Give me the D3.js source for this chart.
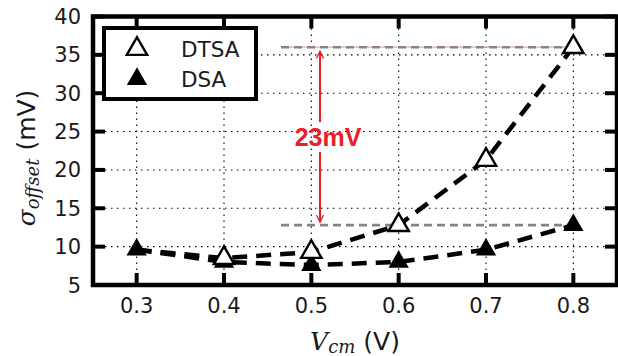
<!DOCTYPE html>
<html lang="en">
<head>
<meta charset="UTF-8">
<title>Offset sigma vs Vcm</title>
<script src="https://cdnjs.cloudflare.com/ajax/libs/d3/7.8.5/d3.min.js"></script>
<style>
    body { margin: 0; background: #fff; }
    svg { display: block; font-family: "DejaVu Sans", sans-serif; }
</style>
</head>
<body>
<svg width="618" height="356"></svg>
<script>
    // values
    const vcm = [0.3, 0.4, 0.5, 0.6, 0.7, 0.8];
    const dtsa = [9.6, 8.5, 9.3, 12.8, 21.3, 36.0];
    const dsa = [9.6, 8.0, 7.6, 8.0, 9.6, 12.8];
    const xTicks = [0.3, 0.4, 0.5, 0.6, 0.7, 0.8];
    const yTicks = [5, 10, 15, 20, 25, 30, 35, 40];
    const annotTop = 36.0, annotBottom = 12.8;
    const annotLabel = "23mV";

    const svg = d3.select("svg");
    const pL = 93, pR = 617, pT = 16.5, pB = 285;

    const x = d3.scaleLinear().domain([0.25, 0.85]).range([pL, pR]);
    const y = d3.scaleLinear().domain([5, 40]).range([pB, pT]);

    // dotted grid
    const grid = svg.append("g")
        .attr("stroke", "#000")
        .attr("stroke-width", 1.1)
        .attr("stroke-dasharray", "1.5,4.5");
    grid.selectAll("line.vx").data(xTicks).enter().append("line")
        .attr("x1", d => x(d)).attr("x2", d => x(d))
        .attr("y1", pT).attr("y2", pB);
    grid.selectAll("line.hy").data(yTicks.slice(1, -1)).enter().append("line")
        .attr("x1", pL).attr("x2", pR)
        .attr("y1", d => y(d)).attr("y2", d => y(d));

    // annotation guide lines
    const guideX1 = 281, guideX2 = x(0.8);
    svg.append("line")
        .attr("x1", guideX1).attr("x2", guideX2 + 6)
        .attr("y1", y(annotTop)).attr("y2", y(annotTop))
        .attr("stroke", "#f2a796").attr("stroke-width", 1.2);
    [annotTop, annotBottom].forEach(v => {
        svg.append("line")
            .attr("x1", guideX1).attr("x2", guideX2)
            .attr("y1", y(v)).attr("y2", y(v))
            .attr("stroke", "#858585").attr("stroke-width", 2.6)
            .attr("stroke-dasharray", "8,5");
    });

    // red double arrow
    const ax = 320;
    const defs = svg.append("defs");
    defs.append("marker")
        .attr("id", "head")
        .attr("viewBox", "0 0 10 10")
        .attr("refX", 9).attr("refY", 5)
        .attr("markerWidth", 4.5).attr("markerHeight", 4.5)
        .attr("orient", "auto-start-reverse")
        .attr("markerUnits", "strokeWidth")
        .append("path")
        .attr("d", "M1,1 L9,5 L1,9")
        .attr("fill", "none")
        .attr("stroke", "#e8202a")
        .attr("stroke-width", 1.4);
    svg.append("line")
        .attr("x1", ax).attr("x2", ax)
        .attr("y1", y(annotTop) + 4).attr("y2", y(annotBottom) - 3)
        .attr("stroke", "#e8202a").attr("stroke-width", 2)
        .attr("marker-start", "url(#head)")
        .attr("marker-end", "url(#head)");
    // label sits on white so the arrow looks broken
    const lab = svg.append("text")
        .attr("x", 328).attr("y", 146)
        .attr("text-anchor", "middle")
        .attr("font-family", "'Liberation Sans', Arial, sans-serif")
        .attr("font-weight", "bold")
        .attr("font-size", 25)
        .attr("fill", "#e8202a")
        .text(annotLabel);
    const bb = lab.node().getBBox();
    svg.insert("rect", "text")
        .attr("x", ax - 4).attr("y", bb.y - 1)
        .attr("width", 8).attr("height", bb.height + 2)
        .attr("fill", "#fff");

    // data lines
    const line = d3.line().x(d => x(d[0])).y(d => y(d[1]));
    [dtsa, dsa].forEach(series => {
        svg.append("path")
            .datum(vcm.map((v, i) => [v, series[i]]))
            .attr("d", line)
            .attr("fill", "none")
            .attr("stroke", "#000")
            .attr("stroke-width", 4.5)
            .attr("stroke-dasharray", "15,9");
    });

    // markers
    const tri = d3.symbol().type(d3.symbolTriangle).size(180);
    svg.append("g").selectAll("path").data(vcm).enter().append("path")
        .attr("d", tri)
        .attr("transform", (d, i) => `translate(${x(d)},${y(dsa[i])})`)
        .attr("fill", "#000");
    svg.append("g").selectAll("path").data(vcm.slice(1)).enter().append("path")
        .attr("d", tri)
        .attr("transform", (d, i) => `translate(${x(d)},${y(dtsa[i + 1])})`)
        .attr("fill", "#fff")
        .attr("stroke", "#000")
        .attr("stroke-width", 2.4);

    // inward ticks on all sides
    const ticks = svg.append("g").attr("stroke", "#000").attr("stroke-width", 4);
    xTicks.forEach(t => {
        ticks.append("line").attr("x1", x(t)).attr("x2", x(t)).attr("y1", pB).attr("y2", pB - 12);
        ticks.append("line").attr("x1", x(t)).attr("x2", x(t)).attr("y1", pT).attr("y2", pT + 12);
    });
    yTicks.forEach(t => {
        ticks.append("line").attr("y1", y(t)).attr("y2", y(t)).attr("x1", pL).attr("x2", pL + 12);
        ticks.append("line").attr("y1", y(t)).attr("y2", y(t)).attr("x1", pR).attr("x2", pR - 12);
    });

    // frame
    svg.append("rect")
        .attr("x", pL).attr("y", pT)
        .attr("width", pR - pL).attr("height", pB - pT)
        .attr("fill", "none").attr("stroke", "#000").attr("stroke-width", 4.5);

    // tick labels
    svg.append("g").selectAll("text").data(xTicks).enter().append("text")
        .attr("x", d => x(d)).attr("y", 313)
        .attr("text-anchor", "middle")
        .attr("font-size", 21)
        .attr("fill", "#1a1a1a")
        .text(d => d3.format(".1f")(d));
    svg.append("g").selectAll("text").data(yTicks).enter().append("text")
        .attr("x", 81).attr("y", d => y(d) + 7.5)
        .attr("text-anchor", "end")
        .attr("font-size", 21)
        .attr("fill", "#1a1a1a")
        .text(d => d);

    // axis titles
    const xl = svg.append("text")
        .attr("x", 355).attr("y", 350)
        .attr("text-anchor", "middle")
        .attr("font-size", 25)
        .attr("fill", "#1a1a1a");
    xl.append("tspan").attr("font-family", "'DejaVu Serif', serif").attr("font-style", "italic").text("V");
    xl.append("tspan").attr("font-family", "'DejaVu Serif', serif").attr("font-style", "italic")
        .attr("font-size", 18).attr("dy", 3).text("cm");
    xl.append("tspan").attr("dy", -3).text(" (V)");

    const yl = svg.append("text")
        .attr("transform", "translate(35,158) rotate(-90)")
        .attr("text-anchor", "middle")
        .attr("font-size", 25)
        .attr("fill", "#1a1a1a");
    yl.append("tspan").attr("font-family", "'DejaVu Serif', serif").attr("font-style", "italic").text("σ");
    yl.append("tspan").attr("font-family", "'DejaVu Serif', serif").attr("font-style", "italic")
        .attr("font-size", 18).attr("dy", 4).text("offset");
    yl.append("tspan").attr("dy", -4).text(" (mV)");

    // legend
    const lg = svg.append("g");
    lg.append("rect")
        .attr("x", 104).attr("y", 28).attr("width", 152).attr("height", 71)
        .attr("fill", "#fff").attr("stroke", "#000").attr("stroke-width", 4);
    const legendItems = [["DTSA", "#fff"], ["DSA", "#000"]];
    legendItems.forEach((it, i) => {
        const cy = 49 + i * 30;
        lg.append("path").attr("d", tri)
            .attr("transform", `translate(137,${cy})`)
            .attr("fill", it[1]).attr("stroke", "#000").attr("stroke-width", it[1] === "#fff" ? 2.4 : 0);
        lg.append("text").attr("x", 181).attr("y", cy + 8)
            .attr("font-size", 21.5).attr("fill", "#1a1a1a").text(it[0]);
    });
</script>
</body>
</html>
